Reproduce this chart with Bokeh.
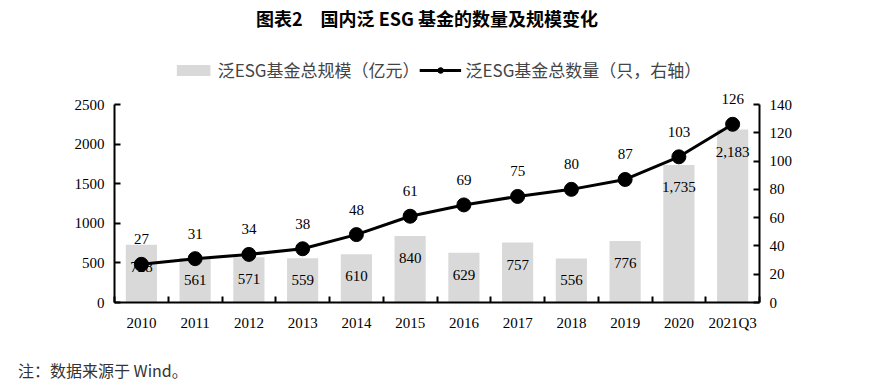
from bokeh.plotting import figure
from bokeh.models import (Range1d, LinearAxis, FixedTicker, Legend, LegendItem,
                          ColumnDataSource, LabelSet, Div)
from bokeh.layouts import column
from bokeh.core.properties import value
from bokeh.embed import file_html
from bokeh.resources import INLINE

categories = ["2010", "2011", "2012", "2013", "2014", "2015", "2016", "2017", "2018", "2019", "2020", "2021Q3"]
scale = [728, 561, 571, 559, 610, 840, 629, 757, 556, 776, 1735, 2183]
count = [27, 31, 34, 38, 48, 61, 69, 75, 80, 87, 103, 126]
left_ticks = [0, 500, 1000, 1500, 2000, 2500]
right_ticks = [0, 20, 40, 60, 80, 100, 120, 140]

title_text = "图表2　国内泛 ESG 基金的数量及规模变化"
bar_name = "泛ESG基金总规模（亿元）"
line_name = "泛ESG基金总数量（只，右轴）"
note_text = "注：数据来源于 Wind。"

SERIF = "Liberation Serif"
CJK = "Noto Sans CJK SC"

n = len(categories)
xs = [i + 0.5 for i in range(n)]
src = ColumnDataSource(dict(
    x=xs, scale=scale, count=count,
    scale_lbl=[f"{v:,}" for v in scale],
    count_lbl=[str(v) for v in count],
))

# layout (pixels): frame extends above the axes' top so the legend fits inside it
AXIS_PX = 198      # height of the axes' span
FRAME_PX = 258     # full frame height (axes span + legend room)
L_MAX, R_MAX = left_ticks[-1], right_ticks[-1]
ext = FRAME_PX / AXIS_PX

title_div = Div(text=title_text, width=854, height=36, margin=(0, 0, 0, 0),
                styles={"font-family": CJK, "font-size": "18px", "font-weight": "bold",
                        "color": "black", "text-align": "center", "line-height": "36px",
                        "width": "854px"})

p = figure(width=854, height=298, output_backend="svg", toolbar_location=None,
           x_range=Range1d(0, n), y_range=Range1d(0, L_MAX * ext),
           min_border_left=114, min_border_right=95, min_border_top=8, min_border_bottom=32,
           margin=(0, 0, 0, 0))
p.outline_line_color = None
p.grid.visible = False
p.background_fill_color = "white"
p.border_fill_color = "white"

p.extra_y_ranges = {"cnt": Range1d(0, R_MAX * ext)}

bars = p.vbar(x="x", top="scale", width=0.58, source=src, fill_color="#d9d9d9", line_color=None)
line = p.line(x="x", y="count", source=src, y_range_name="cnt", line_color="black", line_width=3)
pts = p.scatter(x="x", y="count", source=src, y_range_name="cnt", size=14,
                fill_color="black", line_color="black")

# axes
xa = p.xaxis[0]
xa.ticker = FixedTicker(ticks=xs, minor_ticks=list(range(n + 1)))
xa.major_label_overrides = {x: c for x, c in zip(xs, categories)}
xa.major_tick_in = 0
xa.major_tick_out = 0
xa.minor_tick_in = 6
xa.minor_tick_out = 0
xa.minor_tick_line_color = "black"
xa.minor_tick_line_width = 2
xa.axis_line_width = 2
xa.axis_line_color = "black"
xa.major_label_text_font = SERIF
xa.major_label_text_font_size = "15px"
xa.major_label_text_color = "black"
xa.major_label_standoff = 12

ya = p.yaxis[0]
ya.ticker = FixedTicker(ticks=left_ticks)
ya.bounds = (0, L_MAX)
ya.major_tick_in = 6
ya.major_tick_out = 0
ya.minor_tick_line_color = None
ya.major_tick_line_width = 2
ya.axis_line_width = 2
ya.major_label_text_font = SERIF
ya.major_label_text_font_size = "15px"
ya.major_label_text_color = "black"
ya.major_label_standoff = 10

ra = LinearAxis(y_range_name="cnt", ticker=FixedTicker(ticks=right_ticks), bounds=(0, R_MAX))
ra.major_tick_in = 6
ra.major_tick_out = 0
ra.minor_tick_line_color = None
ra.major_tick_line_width = 2
ra.axis_line_width = 2
ra.major_label_text_font = SERIF
ra.major_label_text_font_size = "15px"
ra.major_label_text_color = "black"
ra.major_label_standoff = 10
p.add_layout(ra, "right")

# data labels
p.add_layout(LabelSet(x="x", y="scale", text="scale_lbl", source=src, y_offset=-22,
                      text_align="center", text_baseline="middle",
                      text_font=value(SERIF), text_font_size="15px", text_color="black"))
p.add_layout(LabelSet(x="x", y="count", text="count_lbl", source=src, y_range_name="cnt",
                      y_offset=25, text_align="center", text_baseline="middle",
                      text_font=value(SERIF), text_font_size="15px", text_color="black"))

legend = Legend(items=[LegendItem(label=bar_name, renderers=[bars]),
                       LegendItem(label=line_name, renderers=[line, pts])],
                orientation="horizontal", location="top_center",
                glyph_width=42, glyph_height=14, spacing=0, label_standoff=4,
                label_text_font=CJK, label_text_font_size="17px",
                border_line_color=None, background_fill_alpha=0, padding=0, margin=13)
p.add_layout(legend, "center")

note_div = Div(text=note_text, width=400, height=20, margin=(26, 0, 0, 18),
               styles={"font-family": CJK, "font-size": "16px", "color": "#333333",
                       "line-height": "20px"})

layout = column(title_div, p, note_div, spacing=0)

open("out.html", "w").write(file_html(layout, INLINE))
